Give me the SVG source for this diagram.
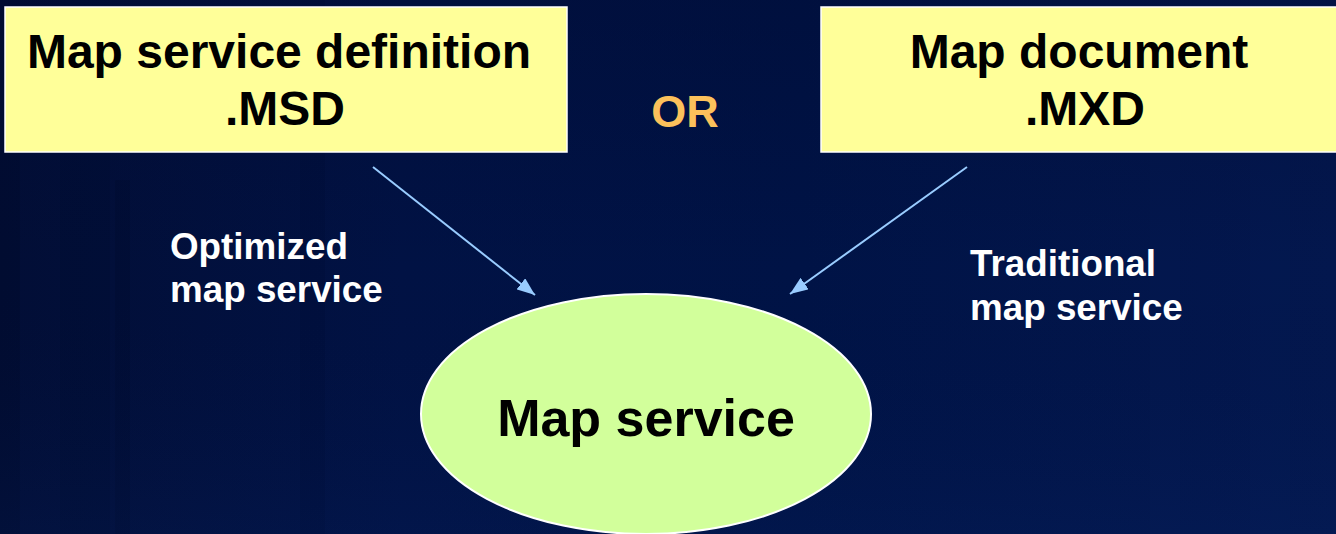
<svg xmlns="http://www.w3.org/2000/svg" width="1336" height="534" viewBox="0 0 1336 534">
  <defs>
    <linearGradient id="bg" x1="0" y1="0" x2="1" y2="0">
      <stop offset="0" stop-color="#020e36"/>
      <stop offset="0.3" stop-color="#011244"/>
      <stop offset="0.6" stop-color="#001346"/>
      <stop offset="1" stop-color="#03174e"/>
    </linearGradient>
    <linearGradient id="bgv" x1="0" y1="0" x2="0" y2="1">
      <stop offset="0" stop-color="#000a30" stop-opacity="0.35"/>
      <stop offset="0.5" stop-color="#000a30" stop-opacity="0"/>
      <stop offset="1" stop-color="#0a2a70" stop-opacity="0.15"/>
    </linearGradient>
    <marker id="arrow" markerWidth="18" markerHeight="14" refX="18" refY="7" orient="auto" markerUnits="userSpaceOnUse">
      <path d="M0,0 L18,7 L0,14 Z" fill="#99ccff"/>
    </marker>
    <style>
      .box { fill: #ffff99; stroke: #ffffff; stroke-width: 1.5; }
      .title { font-family: "Liberation Sans", Arial, sans-serif; font-weight: bold; font-size: 48px; fill: #000000; text-anchor: middle; }
      .label { font-family: "Liberation Sans", Arial, sans-serif; font-weight: bold; font-size: 36.8px; fill: #ffffff; }
      .conn { stroke: #99ccff; stroke-width: 2; fill: none; marker-end: url(#arrow); }
    </style>
  </defs>
  <rect x="0" y="0" width="1336" height="534" fill="url(#bg)"/>
  <g opacity="0.18">
    <rect x="0" y="0" width="20" height="534" fill="#000820"/>
    <rect x="60" y="0" width="50" height="534" fill="#000a2a"/>
    <rect x="115" y="180" width="15" height="354" fill="#000820"/>
    <rect x="300" y="0" width="25" height="534" fill="#000a2a"/>
    <rect x="1150" y="150" width="30" height="384" fill="#08205a"/>
    <rect x="1250" y="0" width="40" height="534" fill="#08205a"/>
  </g>
  <rect x="0" y="0" width="1336" height="534" fill="url(#bgv)"/>

  <g id="connectors">
    <line class="conn" x1="373" y1="167" x2="535" y2="295"/>
    <line class="conn" x1="967" y1="167" x2="790" y2="294"/>
  </g>

  <g id="node-msd">
    <rect class="box" x="5" y="7" width="562" height="145"/>
    <text class="title" x="279" y="68">Map service definition</text>
    <text class="title" x="285" y="125">.MSD</text>
  </g>

  <g id="node-or">
    <text x="685" y="127" font-family="Liberation Sans, Arial, sans-serif" font-weight="bold" font-size="45" fill="#fcc15b" text-anchor="middle">OR</text>
  </g>

  <g id="node-mxd">
    <rect class="box" x="821" y="7" width="530" height="145"/>
    <text class="title" x="1079" y="68">Map document</text>
    <text class="title" x="1085" y="125">.MXD</text>
  </g>

  <g id="label-optimized">
    <text class="label" x="170" y="259">Optimized</text>
    <text class="label" x="170" y="302">map service</text>
  </g>

  <g id="label-traditional">
    <text class="label" x="970" y="276">Traditional</text>
    <text class="label" x="970" y="320">map service</text>
  </g>

  <g id="node-mapservice">
    <ellipse cx="646" cy="414" rx="225" ry="120" fill="#d2ff9b" stroke="#ffffff" stroke-width="2"/>
    <text x="646" y="436" font-family="Liberation Sans, Arial, sans-serif" font-weight="bold" font-size="52" fill="#000000" text-anchor="middle">Map service</text>
  </g>
</svg>
